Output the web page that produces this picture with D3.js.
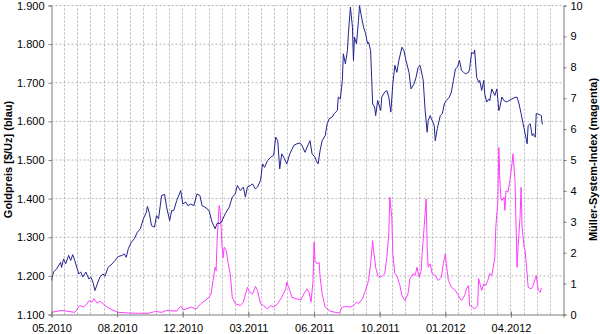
<!DOCTYPE html>
<html>
<head>
<meta charset="utf-8">
<script src="https://cdn.jsdelivr.net/npm/d3@7.9.0/dist/d3.min.js"></script>
<style>
  body { margin: 0; background: #fff; }
  svg { display: block; font-family: "Liberation Sans", Arial, sans-serif; }
  .grid line { stroke: #b4b4b4; stroke-dasharray: 2,2; }
  .axis path, .axis line { stroke: #7a7a7a; }
  .axis text { font-size: 11px; fill: #000; }
  .title { font-size: 11px; font-weight: bold; }
</style>
</head>
<body>
<svg id="chart" width="600" height="334"></svg>
<script>
// trading-day index (0 = start of 05.2010)
const xTickDays = [0, 65, 130, 195, 260, 325, 390, 455];
const xTickLabels = ['05.2010', '08.2010', '12.2010', '03.2011', '06.2011', '10.2011', '01.2012', '04.2012'];
const goldTicks = [1100, 1200, 1300, 1400, 1500, 1600, 1700, 1800, 1900];
const msiTicks = [0, 1, 2, 3, 4, 5, 6, 7, 8, 9, 10];

// Goldpreis (blau)
const goldDays = [0, 2, 5, 9, 10, 12, 14, 17, 19, 21, 23, 27, 29, 31, 34, 37, 39, 41, 43, 46,
  48, 51, 53, 56, 60, 63, 66, 70, 72, 74, 76, 79, 82, 85, 88, 91, 94, 95, 97, 99,
  102, 104, 106, 109, 112, 114, 117, 119, 121, 124, 128, 130, 133, 135, 138, 141, 144, 147, 149, 152,
  156, 159, 162, 164, 167, 169, 172, 176, 179, 182, 184, 187, 190, 192, 194, 197, 199, 202, 204, 207,
  209, 211, 214, 217, 220, 222, 224, 226, 228, 230, 233, 236, 240, 243, 246, 248, 251, 253, 256, 258,
  261, 262, 264, 266, 268, 271, 273, 275, 278, 280, 283, 284, 286, 288, 289, 291, 293, 294, 296, 298,
  299, 300, 302, 304, 305, 307, 309, 311, 313, 314, 316, 317, 318, 320, 321, 323, 326, 327, 330, 332,
  334, 336, 338, 340, 342, 344, 347, 349, 351, 354, 356, 359, 361, 363, 365, 368, 370, 372, 373, 375,
  377, 379, 380, 382, 385, 387, 389, 391, 394, 396, 398, 400, 402, 404, 406, 408, 410, 413, 414, 416,
  418, 419, 421, 423, 424, 426, 428, 429, 431, 433, 434, 436, 439, 441, 443, 444, 446, 448, 451, 453,
  456, 458, 461, 463, 465, 467, 469, 471, 472, 474, 476, 477, 479, 480, 483, 485, 486];
const goldPrice = [1188, 1210, 1218, 1235, 1222, 1244, 1231, 1253, 1240, 1255, 1240, 1205, 1210, 1197, 1210, 1192, 1197, 1184, 1162, 1184,
  1197, 1205, 1199, 1222, 1231, 1240, 1250, 1253, 1257, 1248, 1270, 1287, 1296, 1313, 1322, 1348, 1365, 1380, 1361, 1330,
  1326, 1356, 1348, 1408, 1411, 1378, 1343, 1369, 1369, 1395, 1421, 1386, 1391, 1382, 1386, 1382, 1412, 1408, 1382, 1378,
  1369, 1339, 1322, 1336, 1336, 1343, 1361, 1378, 1404, 1412, 1434, 1421, 1430, 1404, 1430, 1434, 1438, 1425, 1430, 1447,
  1490, 1481, 1499, 1507, 1512, 1559, 1550, 1477, 1516, 1507, 1490, 1516, 1538, 1542, 1544, 1538, 1520, 1533, 1550, 1516,
  1507, 1499, 1490, 1525, 1550, 1563, 1594, 1607, 1611, 1620, 1628, 1663, 1658, 1706, 1775, 1749, 1783, 1827, 1896, 1844,
  1758, 1818, 1801, 1861, 1900, 1870, 1844, 1827, 1801, 1805, 1783, 1714, 1645, 1637, 1615, 1654, 1628, 1663, 1676, 1680,
  1663, 1624, 1697, 1745, 1727, 1758, 1792, 1783, 1758, 1727, 1684, 1697, 1714, 1740, 1745, 1708, 1628, 1572, 1602, 1615,
  1602, 1589, 1550, 1581, 1615, 1620, 1645, 1654, 1663, 1676, 1706, 1736, 1740, 1758, 1732, 1727, 1723, 1727, 1736, 1779,
  1775, 1785, 1714, 1701, 1706, 1680, 1706, 1671, 1650, 1658, 1654, 1684, 1667, 1684, 1628, 1637, 1663, 1654, 1650, 1654,
  1658, 1661, 1663, 1645, 1620, 1594, 1568, 1542, 1589, 1594, 1563, 1568, 1559, 1620, 1618, 1615, 1592];

// Müller-System-Index (magenta)
const msiDays = [0, 10, 23, 28, 32, 35, 37, 40, 42, 45, 48, 51, 55, 60, 66, 76, 86, 96, 103, 109,
  114, 118, 124, 128, 131, 138, 143, 148, 152, 156, 158, 160, 162, 163, 164, 166, 167, 169, 170, 171,
  173, 175, 177, 179, 182, 187, 190, 194, 196, 199, 202, 204, 207, 210, 214, 217, 220, 224, 228, 232,
  233, 236, 238, 242, 247, 250, 253, 255, 257, 259, 260, 261, 263, 265, 266, 268, 271, 276, 281, 285,
  288, 291, 296, 299, 302, 304, 308, 311, 314, 316, 318, 319, 321, 323, 326, 328, 330, 332, 334, 335,
  337, 338, 340, 342, 345, 347, 350, 353, 355, 358, 360, 362, 364, 366, 367, 369, 371, 372, 373, 375,
  377, 380, 383, 386, 388, 390, 391, 393, 396, 400, 403, 406, 409, 411, 413, 414, 417, 419, 422, 423,
  426, 428, 430, 432, 434, 436, 439, 440, 442, 443, 444, 445, 446, 448, 449, 450, 452, 454, 456, 457,
  459, 461, 462, 464, 465, 466, 468, 469, 471, 472, 475, 477, 479, 480, 482, 484, 485];
const msiValue = [0.07, 0.13, 0.07, 0.29, 0.24, 0.35, 0.45, 0.40, 0.51, 0.37, 0.43, 0.35, 0.24, 0.15, 0.07, 0.05, 0.04, 0.04, 0.10, 0.07,
  0.13, 0.12, 0.11, 0.27, 0.15, 0.24, 0.18, 0.35, 0.45, 0.56, 0.67, 1.10, 1.53, 1.42, 2.39, 3.53, 3.37, 2.18, 1.84, 2.18,
  2.07, 1.64, 1.32, 0.56, 0.35, 0.29, 0.40, 0.88, 0.72, 0.67, 0.91, 0.78, 0.35, 0.29, 0.18, 0.29, 0.24, 0.35, 0.56, 0.83,
  1.05, 0.78, 0.56, 0.51, 0.48, 0.67, 0.83, 0.72, 0.40, 1.10, 2.34, 1.75, 1.64, 1.69, 1.21, 0.67, 0.24, 0.11, 0.07, 0.05,
  0.24, 0.26, 0.24, 0.29, 0.40, 0.35, 0.51, 0.78, 1.10, 1.64, 2.39, 2.07, 1.53, 1.26, 1.21, 1.26, 1.32, 1.84, 2.61, 3.80,
  3.15, 1.96, 1.32, 1.26, 0.94, 0.61, 0.45, 0.67, 1.16, 1.32, 1.26, 1.53, 1.21, 1.40, 1.96, 2.83, 3.74, 2.18, 1.53, 1.64,
  1.32, 1.26, 1.10, 1.21, 1.64, 1.96, 1.64, 1.10, 0.88, 0.78, 0.61, 0.45, 0.61, 0.83, 0.94, 0.29, 0.24, 0.18, 0.29, 1.16,
  0.78, 0.99, 0.94, 1.10, 1.32, 1.26, 1.84, 2.83, 3.69, 5.41, 4.34, 3.80, 3.69, 3.80, 3.37, 4.01, 3.96, 4.34, 4.88, 5.20,
  4.34, 1.53, 2.18, 3.15, 4.12, 2.83, 2.18, 2.07, 1.32, 0.88, 0.83, 0.94, 1.16, 1.26, 0.78, 0.72, 0.86];

const width = 600, height = 334;
const margin = { top: 5, right: 37, bottom: 20, left: 51 };

const svg = d3.select('#chart');
const de = d3.formatLocale({ decimal: ',', thousands: '.', grouping: [3], currency: ['', ' €'] });

let x = d3.scaleLinear().domain([0, 507]).range([margin.left + 0.5, width - margin.right + 0.5]);
let yGold = d3.scaleLinear().domain([1100, 1900]).range([height - margin.bottom + 0.5, margin.top + 0.5]);
let yMsi = d3.scaleLinear().domain([0, 10]).range([height - margin.bottom + 0.5, margin.top + 0.5]);

// gridlines
let grid = svg.append('g').attr('class', 'grid');
grid.selectAll('line.h')
  .data(goldTicks.slice(1))
  .join('line')
  .attr('x1', x(0)).attr('x2', x(507))
  .attr('y1', d => yGold(d)).attr('y2', d => yGold(d));
grid.selectAll('line.v')
  .data(d3.range(13, 507, 13))
  .join('line')
  .attr('x1', d => Math.round(x(d) - 0.5) + 0.5).attr('x2', d => Math.round(x(d) - 0.5) + 0.5)
  .attr('y1', yGold(1100)).attr('y2', yGold(1900));

// lines
let goldLine = d3.line().x(d => x(d[0])).y(d => yGold(d[1]));
let msiLine = d3.line().x(d => x(d[0])).y(d => yMsi(d[1]));

svg.append('path')
  .datum(msiDays.map((t, i) => [t, msiValue[i]]))
  .attr('d', msiLine)
  .attr('fill', 'none')
  .attr('stroke', '#ff3cff')
  .attr('stroke-width', 1);

svg.append('path')
  .datum(goldDays.map((t, i) => [t, goldPrice[i]]))
  .attr('d', goldLine)
  .attr('fill', 'none')
  .attr('stroke', '#23238f')
  .attr('stroke-width', 1);

// axes
svg.append('g')
  .attr('class', 'axis')
  .attr('transform', `translate(0,${yGold(1100)})`)
  .call(d3.axisBottom(x).tickValues(xTickDays).tickFormat((d, i) => xTickLabels[i]).tickSizeOuter(0).tickSize(3))
  .call(g => g.selectAll('.tick line').attr('y1', -3).attr('y2', 3))
  .call(g => g.selectAll('.tick text').attr('y', 10));

svg.append('g')
  .attr('class', 'axis')
  .attr('transform', `translate(${x(0)},0)`)
  .call(d3.axisLeft(yGold).tickValues(goldTicks).tickFormat(de.format(',')).tickSizeOuter(0).tickSize(3).tickPadding(4));

svg.append('g')
  .attr('class', 'axis')
  .attr('transform', `translate(${x(507)},0)`)
  .call(d3.axisRight(yMsi).tickValues(msiTicks).tickSizeOuter(0).tickSize(3).tickPadding(4));

// axis titles
svg.append('text')
  .attr('class', 'title')
  .attr('transform', `translate(12,${(margin.top + height - margin.bottom) / 2}) rotate(-90)`)
  .attr('text-anchor', 'middle')
  .text('Goldpreis [$/Uz] (blau)');

svg.append('text')
  .attr('class', 'title')
  .attr('transform', `translate(597,${(margin.top + height - margin.bottom) / 2}) rotate(-90)`)
  .attr('text-anchor', 'middle')
  .text('Müller-System-Index (magenta)');
</script>
</body>
</html>
